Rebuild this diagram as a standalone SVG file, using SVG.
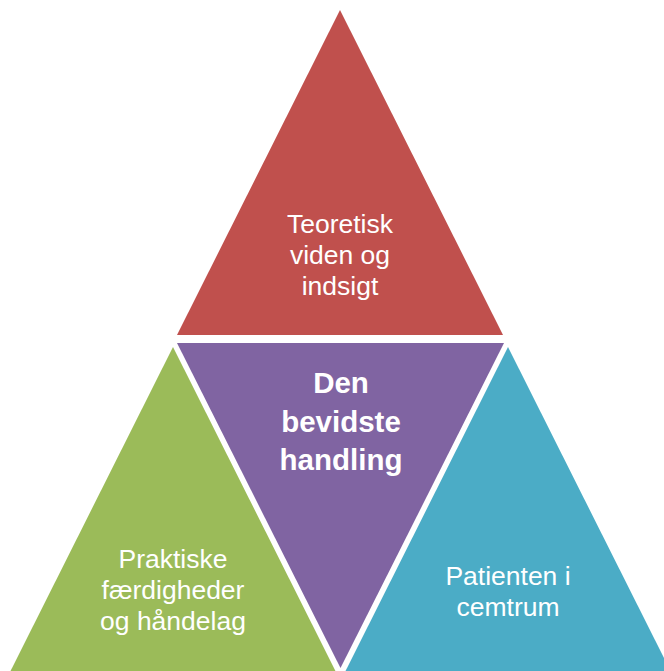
<svg xmlns="http://www.w3.org/2000/svg" width="664" height="671" viewBox="0 0 664 671">
<style>
.t{font-family:"Liberation Sans",Arial,sans-serif;font-size:26.5px;fill:#fff;text-anchor:middle}
.b{font-family:"Liberation Sans",Arial,sans-serif;font-size:29.5px;font-weight:bold;fill:#fff;text-anchor:middle}
</style>
<rect width="664" height="671" fill="#fff"/>
<g id="top">
<polygon points="340,10 177,335 503,335" fill="#C0504D"/>
<text class="t" x="340" y="233">Teoretisk</text>
<text class="t" x="340" y="264">viden og</text>
<text class="t" x="340" y="295">indsigt</text>
</g>
<g id="left">
<polygon points="173,347 1,690 345,690" fill="#9BBB59"/>
<text class="t" x="173" y="568">Praktiske</text>
<text class="t" x="173" y="599">færdigheder</text>
<text class="t" x="173" y="630">og håndelag</text>
</g>
<g id="right">
<polygon points="508,347 336,690 680,690" fill="#4BACC6"/>
<text class="t" x="508" y="585">Patienten i</text>
<text class="t" x="508" y="616">cemtrum</text>
</g>
<g id="center">
<polygon points="177,343 504,343 340.5,668" fill="#8064A2"/>
<text class="b" x="341" y="393">Den</text>
<text class="b" x="341" y="432">bevidste</text>
<text class="b" x="341" y="470">handling</text>
</g>
<g id="connectors"></g>
</svg>
